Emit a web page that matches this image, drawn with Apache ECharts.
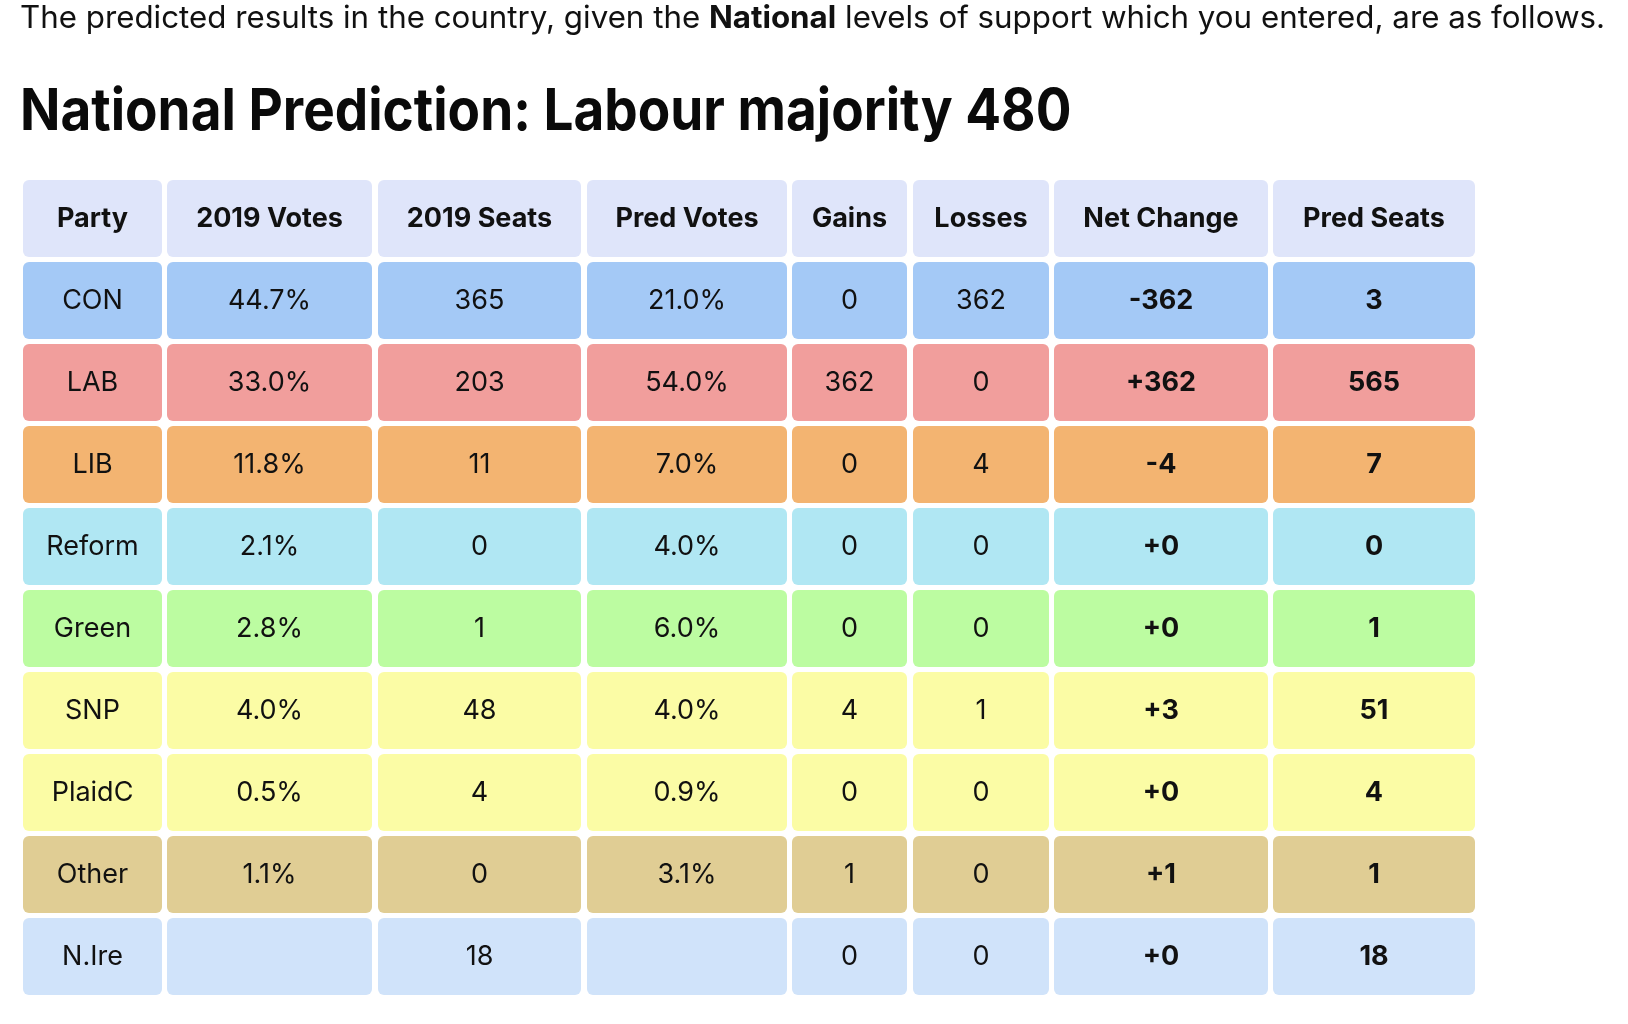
<!DOCTYPE html>
<html>
<head>
<meta charset="utf-8">
<script src="https://cdn.jsdelivr.net/npm/echarts@6/dist/echarts.min.js"></script>
<style>
  html, body { margin: 0; padding: 0; background: #fff; }
  #main { width: 1628px; height: 1024px; }
</style>
</head>
<body>
<div id="main"></div>
<script>
// 表格数据
var headers = ['Party', '2019 Votes', '2019 Seats', 'Pred Votes', 'Gains', 'Losses', 'Net Change', 'Pred Seats'];
var parties = ['CON', 'LAB', 'LIB', 'Reform', 'Green', 'SNP', 'PlaidC', 'Other', 'N.Ire'];
var votes2019 = [44.7, 33.0, 11.8, 2.1, 2.8, 4.0, 0.5, 1.1, null];
var seats2019 = [365, 203, 11, 0, 1, 48, 4, 0, 18];
var predVotes = [21.0, 54.0, 7.0, 4.0, 6.0, 4.0, 0.9, 3.1, null];
var gains = [0, 362, 0, 0, 0, 4, 0, 1, 0];
var losses = [362, 0, 4, 0, 0, 1, 0, 0, 0];
var netChange = [-362, 362, -4, 0, 0, 3, 0, 1, 0];
var predSeats = [3, 565, 7, 0, 1, 51, 4, 1, 18];

// 版式（像素）
var colLeft = [0, 144, 355, 564, 769, 890, 1031, 1250];
var colWidth = [139, 205, 203, 200, 115, 136, 214, 202];
var rowColors = ['#a4c9f6', '#f19e9c', '#f3b471', '#b0e7f3', '#bcfca1', '#fbfca5', '#fbfca5', '#e0cd94', '#d0e3fa'];
var headerColor = '#dfe5fa';
var fontFamily = 'Inter, "Noto Sans", sans-serif';

function pct(v) { return v == null ? '' : v.toFixed(1) + '%'; }
function signed(v) { return v < 0 ? String(v) : '+' + v; }

// 组装单元格：[列, 行, 文本, 是否粗体, 颜色]
var cells = [];
headers.forEach(function (h, c) {
    cells.push([c, 0, h, 1, headerColor]);
});
parties.forEach(function (p, i) {
    var r = i + 1, col = rowColors[i];
    cells.push([0, r, p, 0, col]);
    cells.push([1, r, pct(votes2019[i]), 0, col]);
    cells.push([2, r, String(seats2019[i]), 0, col]);
    cells.push([3, r, pct(predVotes[i]), 0, col]);
    cells.push([4, r, String(gains[i]), 0, col]);
    cells.push([5, r, String(losses[i]), 0, col]);
    cells.push([6, r, signed(netChange[i]), 1, col]);
    cells.push([7, r, String(predSeats[i]), 1, col]);
});

var chart = echarts.init(document.getElementById('main'));

chart.setOption({
    backgroundColor: '#fff',
    animation: false,
    grid: { left: 23, top: 180, width: 1452, height: 820 },
    xAxis: { type: 'value', min: 0, max: 1452, show: false },
    yAxis: {
        type: 'category',
        inverse: true,
        data: ['h'].concat(parties),
        show: false
    },
    graphic: [
        {
            type: 'text',
            x: 20,
            y: 3,
            style: {
                text: 'The predicted results in the country, given the {b|National} levels of support which you entered, are as follows.',
                font: '31.3px ' + fontFamily,
                fill: '#111',
                rich: { b: { fontWeight: 'bold', fontSize: 31.3, fontFamily: fontFamily, fill: '#111' } }
            }
        },
        {
            type: 'text',
            x: 20,
            y: 84,
            scaleX: 0.915,
            style: {
                text: 'National Prediction: Labour majority 480',
                font: 'bold 58px ' + fontFamily,
                fill: '#0a0a0a'
            }
        }
    ],
    series: [{
        type: 'custom',
        data: cells,
        encode: { x: 0, y: 1 },
        renderItem: function (params, api) {
            var c = api.value(0), r = api.value(1);
            var pt = api.coord([colLeft[c], r]);
            var band = api.size([0, 1])[1];
            var w = api.size([colWidth[c], 0])[0];
            var cell = cells[params.dataIndex];
            return {
                type: 'rect',
                shape: { x: pt[0], y: pt[1] - band / 2, width: w, height: band - 5, r: 6 },
                style: { fill: cell[4] },
                textContent: {
                    style: {
                        text: cell[2],
                        font: (cell[3] ? 'bold ' : '') + '27px ' + fontFamily,
                        fill: '#111'
                    }
                },
                textConfig: { position: 'inside' }
            };
        }
    }]
});

window.addEventListener('resize', function () {
    chart.resize();
});
</script>
</body>
</html>
